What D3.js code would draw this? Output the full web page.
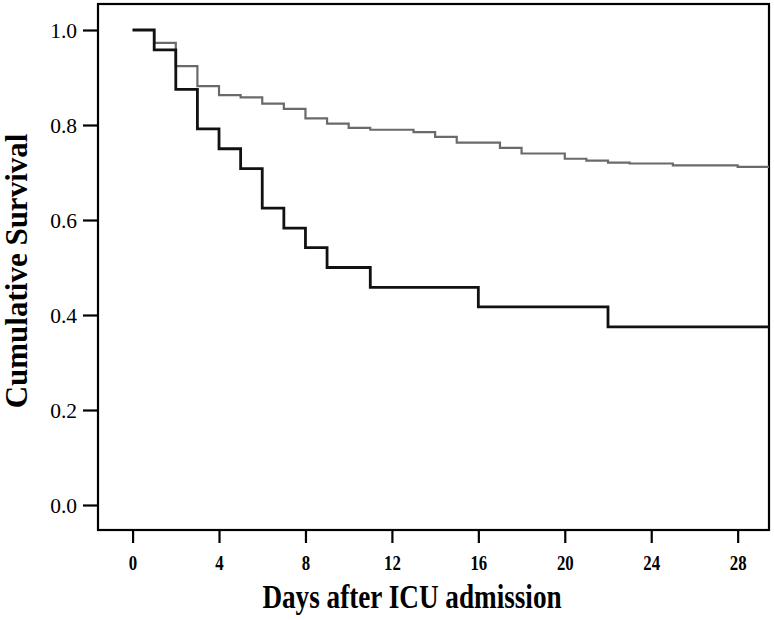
<!DOCTYPE html>
<html>
<head>
<meta charset="utf-8">
<script src="https://cdn.jsdelivr.net/npm/d3@7"></script>
<style>
  body { margin: 0; background: #fff; }
  text { font-family: "Liberation Serif", "Times New Roman", serif; }
</style>
</head>
<body>
<div id="chart"></div>
<script>
// Kaplan-Meier steps: time of each drop and survival after it
var blackTimes = [0, 1, 2, 3, 4, 5, 6, 7, 8, 9, 11, 16, 22];
var blackSurv  = [1.0, 0.958, 0.875, 0.792, 0.75, 0.708, 0.625, 0.583, 0.542, 0.5, 0.458, 0.417, 0.375];

var grayTimes = [0, 1, 2, 3, 4, 5, 6, 7, 8, 9, 10, 11, 13, 14, 15, 17, 18, 20, 21, 22, 23, 25, 28];
var graySurv  = [1.0, 0.973, 0.924, 0.882, 0.863, 0.858, 0.845, 0.834, 0.814, 0.803, 0.794, 0.790, 0.785, 0.775, 0.763, 0.752, 0.740, 0.729, 0.725, 0.721, 0.719, 0.715, 0.712];

var xTicks = [0, 4, 8, 12, 16, 20, 24, 28];
var yTicks = [0.0, 0.2, 0.4, 0.6, 0.8, 1.0];

var width = 774, height = 620;
var margin = {top: 4, right: 5, bottom: 90, left: 98};
var xMin = -1.6, xMax = 29.45;

var svg = d3.select("#chart").append("svg")
  .attr("width", width)
  .attr("height", height);

var x = d3.scaleLinear().domain([xMin, xMax]).range([margin.left, width - margin.right]);
var y = d3.scaleLinear().domain([0, 1]).range([505, 30]);

var frameTop = margin.top, frameBottom = 530;

/** frame */
svg.append("rect")
  .attr("x", margin.left)
  .attr("y", frameTop)
  .attr("width", width - margin.right - margin.left)
  .attr("height", frameBottom - frameTop)
  .attr("fill", "none")
  .attr("stroke", "#000")
  .attr("stroke-width", 2.2);

/** y axis */
var yAxis = svg.append("g")
  .attr("transform", "translate(" + margin.left + ",0)")
  .call(d3.axisLeft(y).tickValues(yTicks).tickFormat(d3.format(".1f")).tickSize(15).tickPadding(6));
yAxis.select(".domain").remove();
yAxis.selectAll("line").attr("stroke", "#000").attr("stroke-width", 2.2);
yAxis.selectAll("text").attr("font-size", 21.5).attr("fill", "#000")
  .attr("dy", "0.34em")
  .style("font-family", "'Liberation Serif', serif");

/** x axis */
var xAxis = svg.append("g")
  .attr("transform", "translate(0," + frameBottom + ")")
  .call(d3.axisBottom(x).tickValues(xTicks).tickSize(13).tickPadding(12));
xAxis.select(".domain").remove();
xAxis.selectAll("line").attr("stroke", "#000").attr("stroke-width", 2.2);
xAxis.selectAll("text")
  .attr("font-size", 20.5)
  .attr("font-weight", "bold")
  .attr("fill", "#000")
  .style("font-family", "'Liberation Serif', serif")
  .attr("transform", "scale(0.82,1)");

/** curves */
function stepPoints(times, surv) {
  var pts = times.map(function(t, i) { return [t, surv[i]]; });
  pts.push([xMax, surv[surv.length - 1]]);
  return pts;
}
var line = d3.line()
  .x(function(d) { return x(d[0]); })
  .y(function(d) { return y(d[1]); })
  .curve(d3.curveStepAfter);

svg.append("path")
  .datum(stepPoints(grayTimes, graySurv))
  .attr("d", line)
  .attr("fill", "none")
  .attr("stroke", "#6a6a6a")
  .attr("stroke-width", 2.2);

svg.append("path")
  .datum(stepPoints(blackTimes, blackSurv))
  .attr("d", line)
  .attr("fill", "none")
  .attr("stroke", "#111")
  .attr("stroke-width", 2.8);

/** axis titles */
svg.append("text")
  .attr("transform", "translate(27,271) rotate(-90)")
  .attr("text-anchor", "middle")
  .attr("font-size", 31)
  .attr("font-weight", "bold")
  .text("Cumulative Survival");

svg.append("text")
  .attr("transform", "translate(412,608) scale(0.8,1)")
  .attr("text-anchor", "middle")
  .attr("font-size", 34)
  .attr("font-weight", "bold")
  .text("Days after ICU admission");
</script>
</body>
</html>
